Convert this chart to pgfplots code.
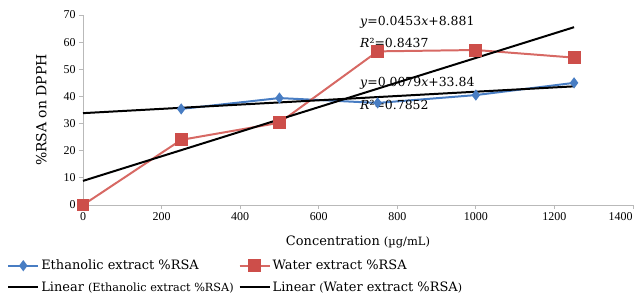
\documentclass[border=0pt]{standalone}
\usepackage{fontspec}
\setmainfont{DejaVu Serif}
\newfontfamily\tickfont{Liberation Serif}
\usepackage{pgfplots}
\pgfplotsset{compat=1.18}
\definecolor{eblue}{RGB}{72,125,195}
\definecolor{wred}{RGB}{205,78,74}
\definecolor{wline}{RGB}{215,105,100}
\definecolor{axgray}{RGB}{185,185,185}
\begin{document}
\begin{tikzpicture}
\path[use as bounding box] (-83bp,-97bp) rectangle (560bp,205bp);
\begin{axis}[
  at={(0,0)}, anchor=south west,
  scale only axis, width=550bp, height=190bp,
  xmin=0, xmax=1400, ymin=0, ymax=70,
  axis x line*=bottom, axis y line*=left,
  axis line style={axgray, line width=1pt, -},
  tick style={axgray, line width=0.8pt},
  tick align=outside, major tick length=4bp,
  xtick={0,200,...,1200}, ytick={0,10,...,70},
  extra x ticks={1400},
  extra x tick style={xticklabel style={anchor=north east, xshift=3bp}},
  /pgf/number format/assume math mode=true,
  /pgf/number format/set thousands separator={},
  ticklabel style={font=\tickfont\fontsize{12}{13}\selectfont},
  xlabel={Concentration {\fontsize{11.5}{12}\selectfont(µg/mL)}},
  ylabel={\%RSA on DPPH},
  label style={font=\fontsize{13}{14}\selectfont},
  xlabel style={yshift=0bp},
  ylabel style={at={(axis description cs:-0.076,0.5)}, anchor=center, font=\fontsize{14}{15}\selectfont},
  clip=false,
  legend columns=2,
  legend cell align=left,
  legend style={at={(axis description cs:-0.138,-0.278)}, anchor=north west,
    draw=none, fill=none, font=\fontsize{13}{14}\selectfont,
    /tikz/every even column/.append style={column sep=3bp},
    row sep=6.5bp, inner sep=0pt},
  legend image code/.code={\draw[mark repeat=2,mark phase=2] plot coordinates {(0bp,0bp) (15bp,0bp) (30bp,0bp)};},
]
\addplot[eblue, line width=2pt, mark=diamond*, mark size=4bp, mark options={fill=eblue, draw=eblue}]
  coordinates {(250,35.4) (500,39.4) (750,37.6) (1000,40.5) (1250,45.0)};
\addlegendentry{Ethanolic extract \%RSA}
\addplot[wline, line width=2pt, mark=square*, mark size=5.5bp, mark options={fill=wred, draw=wred}]
  coordinates {(0,0) (250,24.0) (500,30.3) (750,56.6) (1000,57.1) (1250,54.3)};
\addlegendentry{Water extract \%RSA}
\addplot[black, line width=2pt] coordinates {(0,33.84) (1250,43.715)};
\addlegendentry{Linear {\fontsize{11.3}{12}\selectfont (Ethanolic extract \%RSA)}}
\addplot[black, line width=2pt] coordinates {(0,8.881) (1250,65.506)};
\addlegendentry{Linear {\fontsize{11}{12}\selectfont(}Water extract \%RSA{\fontsize{11}{12}\selectfont)}}
\node[anchor=west, font=\fontsize{12.5}{14}\selectfont, inner sep=0pt] at (axis cs:705,67.4) {\textit{y}=0.0453\textit{x}+8.881};
\node[anchor=west, font=\fontsize{12.5}{14}\selectfont, inner sep=0pt] at (axis cs:705,59.7) {\textit{R}²=0.8437};
\node[anchor=west, font=\fontsize{12.5}{14}\selectfont, inner sep=0pt] at (axis cs:705,45.0) {\textit{y}=0.0079\textit{x}+33.84};
\node[anchor=west, font=\fontsize{12.5}{14}\selectfont, inner sep=0pt] at (axis cs:705,36.8) {\textit{R}²=0.7852};
\end{axis}
\end{tikzpicture}
\end{document}
